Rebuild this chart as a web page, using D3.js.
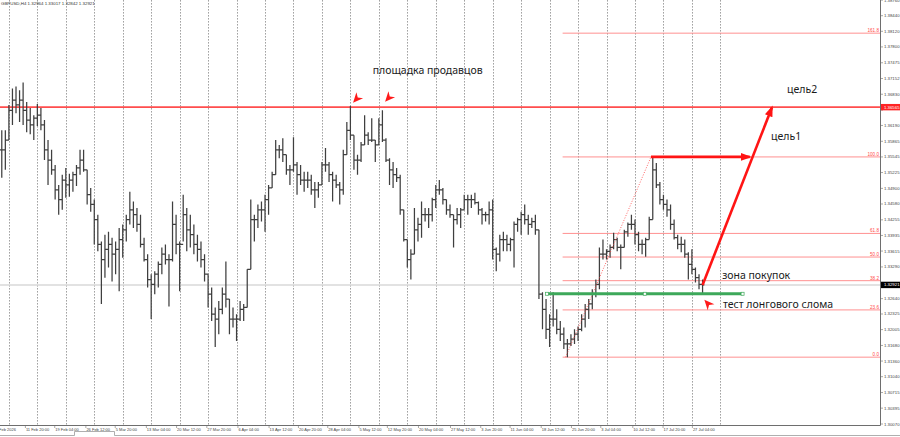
<!DOCTYPE html>
<html>
<head>
<meta charset="utf-8">
<script src="https://cdn.jsdelivr.net/npm/d3@7"></script>
<style>
  body { margin: 0; background: #fff; }
  svg { display: block; font-family: "Liberation Sans", Arial, sans-serif; }
</style>
</head>
<body>
<svg id="chart" width="900" height="437"></svg>
<script>
// GBPUSD H4, each point = 4 H4 bars (high / low / close)
const highs = [1.3609,1.3609,1.3661,1.3695,1.3699,1.3691,1.3707,1.3667,1.3655,1.3640,
  1.3663,1.3655,1.3630,1.3589,1.3569,1.3538,1.3497,1.3518,1.3532,1.3520,
  1.3524,1.3538,1.3569,1.3569,1.3528,1.3491,1.3467,1.3436,1.3381,1.3395,
  1.3401,1.3389,1.3381,1.3409,1.3416,1.3436,1.3483,1.3463,1.3450,1.3436,
  1.3389,1.3355,1.3314,1.3320,1.3340,1.3369,1.3375,1.3355,1.3463,1.3436,
  1.3381,1.3477,1.3450,1.3436,1.3416,1.3395,1.3381,1.3355,1.3314,1.3287,
  1.3246,1.3259,1.3287,1.3340,1.3263,1.3246,1.3232,1.3259,1.3253,1.3324,
  1.3467,1.3436,1.3457,1.3463,1.3477,1.3497,1.3524,1.3589,1.3579,1.3593,
  1.3559,1.3538,1.3595,1.3544,1.3538,1.3524,1.3524,1.3518,1.3503,1.3503,
  1.3544,1.3573,1.3544,1.3524,1.3518,1.3503,1.3569,1.3626,1.3659,1.3599,
  1.3559,1.3585,1.3640,1.3605,1.3634,1.3589,1.3634,1.3650,1.3593,1.3552,
  1.3544,1.3532,1.3518,1.3446,1.3385,1.3365,1.3450,1.3430,1.3463,1.3450,
  1.3450,1.3471,1.3497,1.3507,1.3491,1.3467,1.3457,1.3436,1.3450,1.3450,
  1.3477,1.3477,1.3477,1.3481,1.3463,1.3450,1.3442,1.3463,1.3467,1.3369,
  1.3395,1.3401,1.3395,1.3389,1.3422,1.3430,1.3442,1.3457,1.3436,1.3430,
  1.3436,1.3405,1.3277,1.3263,1.3232,1.3277,1.3242,1.3218,1.3205,1.3181,
  1.3191,1.3201,1.3207,1.3232,1.3253,1.3263,1.3283,1.3303,1.3369,1.3385,
  1.3365,1.3375,1.3399,1.3389,1.3375,1.3405,1.3420,1.3436,1.3426,1.3401,
  1.3385,1.3389,1.3432,1.3554,1.3542,1.3503,1.3477,1.3467,1.3457,1.3426,
  1.3395,1.3391,1.3385,1.3359,1.3365,1.3328,1.3314,1.3303];
const lows = [1.3512,1.3528,1.3589,1.3620,1.3644,1.3626,1.3620,1.3605,1.3601,1.3589,
  1.3618,1.3609,1.3548,1.3497,1.3518,1.3467,1.3436,1.3446,1.3471,1.3473,
  1.3483,1.3495,1.3518,1.3524,1.3457,1.3442,1.3375,1.3361,1.3253,1.3307,
  1.3328,1.3299,1.3314,1.3279,1.3348,1.3381,1.3416,1.3409,1.3401,1.3369,
  1.3340,1.3287,1.3222,1.3273,1.3287,1.3314,1.3334,1.3248,1.3340,1.3355,
  1.3279,1.3381,1.3361,1.3369,1.3355,1.3340,1.3328,1.3299,1.3246,1.3218,
  1.3165,1.3191,1.3232,1.3246,1.3191,1.3205,1.3177,1.3218,1.3218,1.3246,
  1.3324,1.3381,1.3409,1.3422,1.3401,1.3436,1.3491,1.3518,1.3552,1.3544,
  1.3518,1.3497,1.3524,1.3477,1.3497,1.3483,1.3491,1.3477,1.3450,1.3471,
  1.3497,1.3524,1.3503,1.3463,1.3491,1.3457,1.3477,1.3559,1.3589,1.3528,
  1.3518,1.3544,1.3579,1.3579,1.3585,1.3544,1.3579,1.3585,1.3544,1.3497,
  1.3491,1.3503,1.3436,1.3381,1.3328,1.3303,1.3355,1.3381,1.3389,1.3422,
  1.3409,1.3422,1.3450,1.3477,1.3457,1.3436,1.3430,1.3369,1.3416,1.3409,
  1.3446,1.3436,1.3450,1.3457,1.3436,1.3416,1.3422,1.3416,1.3344,1.3320,
  1.3340,1.3361,1.3361,1.3361,1.3328,1.3401,1.3395,1.3416,1.3395,1.3409,
  1.3395,1.3263,1.3201,1.3181,1.3165,1.3207,1.3191,1.3177,1.3161,1.3144,
  1.3167,1.3171,1.3177,1.3197,1.3205,1.3222,1.3242,1.3267,1.3283,1.3344,
  1.3344,1.3348,1.3365,1.3361,1.3324,1.3369,1.3391,1.3405,1.3375,1.3361,
  1.3355,1.3350,1.3385,1.3426,1.3491,1.3457,1.3446,1.3432,1.3405,1.3385,
  1.3365,1.3359,1.3348,1.3303,1.3314,1.3297,1.3283,1.3275];
const closes = [1.3569,1.3589,1.3650,1.3671,1.3661,1.3671,1.3650,1.3630,1.3620,1.3634,
  1.3640,1.3620,1.3569,1.3548,1.3528,1.3487,1.3467,1.3507,1.3497,1.3507,
  1.3518,1.3532,1.3548,1.3528,1.3477,1.3457,1.3426,1.3375,1.3344,1.3365,
  1.3375,1.3355,1.3365,1.3385,1.3405,1.3426,1.3446,1.3436,1.3416,1.3375,
  1.3344,1.3303,1.3293,1.3314,1.3334,1.3355,1.3344,1.3344,1.3416,1.3375,
  1.3375,1.3436,1.3405,1.3395,1.3375,1.3365,1.3344,1.3314,1.3273,1.3232,
  1.3222,1.3242,1.3273,1.3263,1.3222,1.3222,1.3222,1.3242,1.3246,1.3324,
  1.3426,1.3426,1.3446,1.3446,1.3467,1.3491,1.3518,1.3569,1.3569,1.3559,
  1.3528,1.3528,1.3538,1.3518,1.3507,1.3507,1.3507,1.3487,1.3487,1.3497,
  1.3538,1.3538,1.3518,1.3507,1.3497,1.3487,1.3559,1.3609,1.3599,1.3548,
  1.3548,1.3579,1.3599,1.3589,1.3589,1.3579,1.3620,1.3589,1.3548,1.3528,
  1.3518,1.3512,1.3446,1.3385,1.3344,1.3355,1.3405,1.3416,1.3436,1.3436,
  1.3436,1.3467,1.3487,1.3487,1.3467,1.3446,1.3436,1.3426,1.3436,1.3446,
  1.3467,1.3467,1.3467,1.3461,1.3446,1.3436,1.3436,1.3446,1.3365,1.3355,
  1.3385,1.3385,1.3375,1.3385,1.3416,1.3426,1.3436,1.3426,1.3416,1.3422,
  1.3405,1.3273,1.3242,1.3201,1.3222,1.3222,1.3201,1.3191,1.3171,1.3171,
  1.3181,1.3191,1.3201,1.3222,1.3242,1.3253,1.3273,1.3293,1.3355,1.3355,
  1.3361,1.3369,1.3385,1.3369,1.3369,1.3401,1.3416,1.3416,1.3395,1.3375,
  1.3375,1.3385,1.3426,1.3528,1.3497,1.3467,1.3457,1.3446,1.3416,1.3389,
  1.3375,1.3375,1.3355,1.3334,1.3324,1.3307,1.3293,1.32921];
const barsPerPoint = 4;

const priceTicks = ["1.38760","1.38440","1.38120","1.37800","1.37475","1.37152","1.36830",
  "1.36505","1.36190","1.35865","1.35545","1.35225","1.34900","1.34580","1.34255","1.33935",
  "1.33615","1.33290","1.32970","1.32640","1.32325","1.32005","1.31680","1.31360","1.31040",
  "1.30715","1.30395","1.30070"];

const timeLabels = ["4 Feb 2026","11 Feb 20:00","19 Feb 04:00","26 Feb 12:00","5 Mar 20:00",
  "13 Mar 04:00","20 Mar 12:00","27 Mar 20:00","6 Apr 04:00","13 Apr 12:00","20 Apr 20:00",
  "28 Apr 04:00","5 May 12:00","12 May 20:00","20 May 04:00","27 May 12:00","3 Jun 20:00",
  "11 Jun 04:00","18 Jun 12:00","25 Jun 20:00","3 Jul 04:00","10 Jul 12:00","17 Jul 20:00",
  "27 Jul 04:00"];
const timeLabelBars = [-6,28,61,96,129,164,198,232,267,302,335,368,403,435,470,506,540,573,608,642,675,711,745,778];
const gridStep = 32;

const title = "GBPUSD,H4  1.32964 1.33017 1.32842 1.32921";
const resistance = 1.36565;
const lastPrice = 1.32921;

const fibRatios = [0, 23.6, 38.2, 50.0, 61.8, 100.0, 161.8];
const fibLow = {bar: 636, price: 1.3144};
const fibHigh = {bar: 732, price: 1.35545};

const breakLine = {from: 615, to: 835, price: 1.3274};
const targetArrows = [
  {bar1: 732, p1: 1.35545, bar2: 843, p2: 1.35545},
  {bar1: 790, p1: 1.3292, bar2: 868, p2: 1.3656}
];
const markers = [
  {bar: 397, price: 1.36658, angle: 132},
  {bar: 433, price: 1.36678, angle: 132},
  {bar: 792, price: 1.32616, angle: -132}
];
const notes = [
  {text: "площадка продавцов", bar: 419, price: 1.37250},
  {text: "цель2", bar: 885, price: 1.36862},
  {text: "цель1", bar: 867, price: 1.35902},
  {text: "зона покупок", bar: 812, price: 1.33044},
  {text: "тест лонгового слома", bar: 813, price: 1.32452}
];

const plotRight = 880, plotBottom = 425;
const svg = d3.select("#chart");

const x = d3.scaleLinear().domain([0, 1012]).range([0, 900]);
const y = d3.scaleLinear().domain([1.30070, 1.38440]).range([424, 15.7]);

const defs = svg.append("defs");
defs.append("clipPath").attr("id", "plot")
  .append("rect").attr("x", 0).attr("y", 0).attr("width", plotRight).attr("height", plotBottom);
defs.append("marker")
  .attr("id", "head")
  .attr("markerUnits", "userSpaceOnUse")
  .attr("viewBox", "0 0 11 8")
  .attr("markerWidth", 11).attr("markerHeight", 8)
  .attr("refX", 9).attr("refY", 4)
  .attr("orient", "auto")
  .append("path").attr("d", "M0,0 L11,4 L0,8 Z").attr("fill", "#ff1414");

const plot = svg.append("g").attr("clip-path", "url(#plot)");

// vertical dotted grid
plot.append("g").selectAll("line")
  .data(d3.range(10, 811, gridStep))
  .enter().append("line")
  .attr("x1", d => Math.round(x(d)) + 0.5).attr("x2", d => Math.round(x(d)) + 0.5)
  .attr("y1", 0).attr("y2", plotBottom)
  .attr("stroke", "#8a8a8a").attr("stroke-width", 0.8)
  .attr("stroke-dasharray", "1.6,1.4");

// current price line
plot.append("line")
  .attr("x1", 0).attr("x2", plotRight)
  .attr("y1", y(lastPrice)).attr("y2", y(lastPrice))
  .attr("stroke", "#d9d9d9").attr("stroke-width", 1.5);

// fibonacci levels
const fibRange = fibHigh.price - fibLow.price;
const fibs = fibRatios.map(r => ({r: r, price: fibLow.price + fibRange * r / 100}));
plot.append("g").selectAll("line")
  .data(fibs).enter().append("line")
  .attr("x1", x(fibLow.bar) - 3).attr("x2", plotRight)
  .attr("y1", d => y(d.price)).attr("y2", d => y(d.price))
  .attr("stroke", "#ff9090").attr("stroke-width", 1);
plot.append("g").selectAll("text")
  .data(fibs).enter().append("text")
  .attr("x", plotRight - 1).attr("y", d => y(d.price) - 1)
  .attr("text-anchor", "end")
  .attr("font-size", 4.6).attr("fill", "#ff4a4a")
  .text(d => d.r.toFixed(1));

// resistance line
plot.append("line")
  .attr("x1", 0).attr("x2", plotRight)
  .attr("y1", y(resistance)).attr("y2", y(resistance))
  .attr("stroke", "#ff4d4d").attr("stroke-width", 1.7);

// price bars
let barPath = "";
highs.forEach((h, i) => {
  const bx = x(i * barsPerPoint + 2);
  const open = i > 0 ? closes[i - 1] : closes[i];
  barPath += `M${bx},${y(h)}V${y(lows[i])}`;
  barPath += `M${bx - 1.8},${y(open)}H${bx}`;
  barPath += `M${bx},${y(closes[i])}H${bx + 1.8}`;
});
plot.append("path")
  .attr("d", barPath)
  .attr("fill", "none")
  .attr("stroke", "#3f3f3f")
  .attr("stroke-width", 1.25);

// fibo trend line
plot.append("line")
  .attr("x1", x(fibLow.bar)).attr("y1", y(fibLow.price))
  .attr("x2", x(fibHigh.bar)).attr("y2", y(fibHigh.price))
  .attr("stroke", "#ff4040").attr("stroke-width", 0.8)
  .attr("stroke-dasharray", "1,1.6");

// green break level
plot.append("line")
  .attr("x1", x(breakLine.from)).attr("x2", x(breakLine.to))
  .attr("y1", y(breakLine.price)).attr("y2", y(breakLine.price))
  .attr("stroke", "#3da85a").attr("stroke-width", 3);
plot.append("g").selectAll("rect")
  .data([breakLine.from, (breakLine.from + breakLine.to) / 2, breakLine.to])
  .enter().append("rect")
  .attr("x", d => x(d) - 1.5).attr("y", y(breakLine.price) - 1.5)
  .attr("width", 3).attr("height", 3)
  .attr("fill", "#fff").attr("stroke", "#3da85a").attr("stroke-width", 0.7);

// target arrows
plot.append("g").selectAll("line")
  .data(targetArrows).enter().append("line")
  .attr("x1", d => x(d.bar1)).attr("y1", d => y(d.p1))
  .attr("x2", d => x(d.bar2)).attr("y2", d => y(d.p2))
  .attr("stroke", "#ff1414").attr("stroke-width", 2.6)
  .attr("marker-end", "url(#head)");

// small arrow markers
plot.append("g").selectAll("path")
  .data(markers).enter().append("path")
  .attr("d", "M0,0 L-10,-4.5 L-7,0 L-10,4.5 Z")
  .attr("transform", d => `translate(${x(d.bar)},${y(d.price)}) rotate(${d.angle})`)
  .attr("fill", "#ff1a1a");

// notes
plot.append("g").selectAll("text")
  .data(notes).enter().append("text")
  .attr("x", d => x(d.bar)).attr("y", d => y(d.price))
  .attr("font-family", "'Noto Sans', sans-serif")
  .attr("font-size", 10.5).attr("fill", "#1a1a1a")
  .text(d => d.text);

// title
svg.append("text")
  .attr("x", 1).attr("y", 5)
  .attr("font-size", 4.4).attr("fill", "#333")
  .text(title);

// axes frame
svg.append("path")
  .attr("d", `M0,${plotBottom + 0.5}H${plotRight + 0.5}V0`)
  .attr("fill", "none").attr("stroke", "#6e6e6e").attr("stroke-width", 1);

// price axis (labels hidden under the level boxes are skipped, as in the terminal)
const boxPrices = [resistance, lastPrice];
const pAxis = svg.append("g");
pAxis.selectAll("line").data(priceTicks).enter().append("line")
  .attr("x1", plotRight).attr("x2", plotRight + 3)
  .attr("y1", d => y(+d)).attr("y2", d => y(+d))
  .attr("stroke", "#6e6e6e").attr("stroke-width", 0.6);
pAxis.selectAll("text")
  .data(priceTicks.filter(d => boxPrices.every(b => Math.abs(y(+d) - y(b)) > 5)))
  .enter().append("text")
  .attr("x", plotRight + 4).attr("y", d => y(+d) + 1.5)
  .attr("font-size", 4.3).attr("fill", "#444")
  .text(d => d);

function priceBox(price, fill) {
  svg.append("rect")
    .attr("x", plotRight + 1).attr("y", y(price) - 3.2)
    .attr("width", 19).attr("height", 6.4)
    .attr("fill", fill);
  svg.append("text")
    .attr("x", plotRight + 4).attr("y", y(price) + 1.5)
    .attr("font-size", 4.3).attr("fill", "#fff")
    .text(price.toFixed(5));
}
priceBox(resistance, "#ff2424");
priceBox(lastPrice, "#000");

// time axis
const tAxis = svg.append("g");
tAxis.selectAll("line").data(timeLabelBars).enter().append("line")
  .attr("x1", d => x(d) + 0.5).attr("x2", d => x(d) + 0.5)
  .attr("y1", plotBottom).attr("y2", plotBottom + 3)
  .attr("stroke", "#6e6e6e").attr("stroke-width", 0.6);
tAxis.selectAll("text").data(timeLabels).enter().append("text")
  .attr("x", (d, i) => x(timeLabelBars[i]) + 1).attr("y", plotBottom + 5.5)
  .attr("font-size", 4.0).attr("fill", "#444")
  .text(d => d);

// bottom tab strip
svg.append("path")
  .attr("d", "M0,435.5H74.5V431.5H114.5V435.5H900")
  .attr("fill", "none").attr("stroke", "#9a9a9a").attr("stroke-width", 0.8);
</script>
</body>
</html>
